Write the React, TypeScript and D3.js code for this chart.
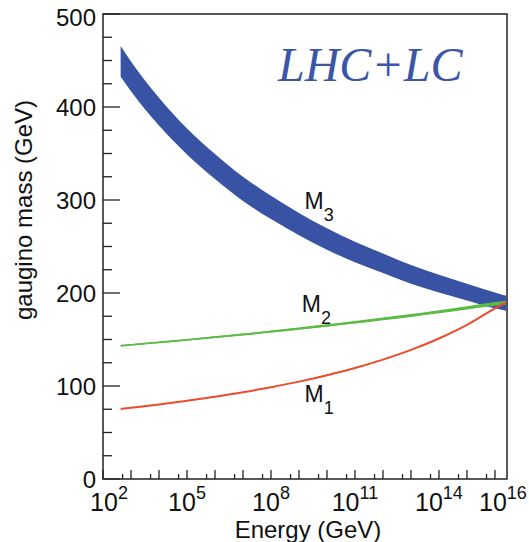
import React from "react";
import * as d3 from "d3";

// log10(Energy / GeV)
const logE = [2.63, 3, 4, 5, 6, 7, 8, 9, 10, 11, 12, 13, 14, 15, 16, 16.4];
// M3 band (GeV)
const m3Upper = [465.5, 449, 410, 377, 349.5, 325, 304.5, 286, 269.5, 255, 242.5, 230, 219.5, 210, 200.5, 197];
const m3Lower = [432.5, 417, 380, 349, 322.5, 299, 279.5, 262, 246.5, 233, 221.5, 210, 200.5, 192, 183.5, 181];
// M2 band (GeV)
const m2Upper = [143.9, 144.9, 147.6, 150.4, 153.4, 156.4, 159.6, 162.9, 166.3, 169.9, 173.6, 177.5, 181.5, 185.8, 190.2, 191.6];
const m2Lower = [142.7, 143.7, 146.2, 148.8, 151.6, 154.4, 157.4, 160.5, 163.7, 167.1, 170.6, 174.3, 178.1, 182.2, 186.4, 187.6];
// M1 line (GeV)
const m1 = [75.3, 76.6, 80.2, 84.1, 88.5, 93.3, 98.7, 104.7, 111.6, 119.4, 128.4, 138.8, 151.1, 165.7, 183.5, 190];

const yMajorTicks = [0, 100, 200, 300, 400, 500];
const yMinorTicks = [25, 50, 75, 125, 150, 175, 225, 250, 275, 325, 350, 375, 425, 450, 475];
const xDecades = [2, 3, 4, 5, 6, 7, 8, 9, 10, 11, 12, 13, 14, 15, 16];
const xLabelExps = [2, 5, 8, 11, 14, 16];

const curveLabels = [
  { name: "M", sub: "3", e: 9.2, v: 290 },
  { name: "M", sub: "2", e: 9.1, v: 180 },
  { name: "M", sub: "1", e: 9.2, v: 83 },
];

export default function App() {
  const W = 529, H = 542;
  const left = 103, right = 507, top = 14, bottom = 479;
  const x = d3.scaleLog().domain([1e2, Math.pow(10, 16.43)]).range([left, right]);
  const y = d3.scaleLinear().domain([0, 500]).range([bottom, top]);

  const pts = logE.map((l, i) => ({ E: Math.pow(10, l), i }));
  const band = (up: number[], lo: number[]) =>
    d3.area<{ E: number; i: number }>()
      .x((d) => x(d.E))
      .y0((d) => y(lo[d.i]))
      .y1((d) => y(up[d.i]))
      .curve(d3.curveMonotoneX)(pts) as string;
  const line = (vals: number[]) =>
    d3.line<{ E: number; i: number }>()
      .x((d) => x(d.E))
      .y((d) => y(vals[d.i]))
      .curve(d3.curveMonotoneX)(pts) as string;
  const m2Mid = m2Upper.map((u, i) => (u + m2Lower[i]) / 2);

  const font = "'Liberation Sans', Arial, Helvetica, sans-serif";

  return (
    <svg width={W} height={H} style={{ position: "absolute", left: 0, top: 0 }}>
      <rect width={W} height={H} fill="#fff" />
      <defs>
        <clipPath id="plotclip">
          <rect x={left} y={top} width={right - left} height={bottom - top} />
        </clipPath>
      </defs>
      <g clipPath="url(#plotclip)">
        <path d={band(m3Upper, m3Lower)} fill="#3953a4" />
        <path d={band(m2Upper, m2Lower)} fill="#5cbb45" />
        <path d={line(m2Mid)} fill="none" stroke="#5cbb45" strokeWidth={1.8} />
        <path d={line(m1)} fill="none" stroke="#ee4a2b" strokeWidth={2} />
      </g>

      {/* frame */}
      <rect x={left} y={top} width={right - left} height={bottom - top} fill="none" stroke="#222" strokeWidth={1.5} />

      {/* y ticks */}
      {yMajorTicks.map((t) => (
        <g key={"ym" + t}>
          <line x1={left} x2={left + 17} y1={y(t)} y2={y(t)} stroke="#222" strokeWidth={1.3} />
          <text x={96} y={y(t) + (t === 500 ? 3 : 0)} dy="0.36em" textAnchor="end" fontFamily={font} fontSize={24} fill="#111">
            {t}
          </text>
        </g>
      ))}
      {yMinorTicks.map((t) => (
        <line key={"yn" + t} x1={left} x2={left + 9} y1={y(t)} y2={y(t)} stroke="#222" strokeWidth={1.3} />
      ))}

      {/* x ticks */}
      {xDecades.map((n) => (
        <line key={"xd" + n} x1={x(Math.pow(10, n))} x2={x(Math.pow(10, n))} y1={bottom} y2={bottom - 9} stroke="#222" strokeWidth={1.3} />
      ))}
      {xDecades.slice(0, -1).map((n) => (
        <line key={"xh" + n} x1={x(5 * Math.pow(10, n))} x2={x(5 * Math.pow(10, n))} y1={bottom} y2={bottom - 5} stroke="#222" strokeWidth={1.3} />
      ))}
      {xLabelExps.map((n, i) => {
        const shift = i === 0 ? 6 : i === xLabelExps.length - 1 ? 8 : 0;
        return (
          <text key={"xl" + n} x={x(Math.pow(10, n)) + shift} y={511} textAnchor="middle" fontFamily={font} fontSize={25} fill="#111">
            10
            <tspan fontSize={18} dy={-12}>{n}</tspan>
          </text>
        );
      })}

      {/* axis titles */}
      <text x={(left + right) / 2 + 3} y={538} textAnchor="middle" fontFamily={font} fontSize={24} fill="#111">
        Energy (GeV)
      </text>
      <text transform={`translate(32,${210}) rotate(-90)`} textAnchor="middle" fontFamily={font} fontSize={24} fill="#111">
        gaugino mass (GeV)
      </text>

      {/* curve labels */}
      {curveLabels.map((c) => (
        <text key={c.sub} x={x(Math.pow(10, c.e))} y={y(c.v)} fontFamily={font} fontSize={23} fill="#111">
          {c.name}
          <tspan fontSize={18} dy={12}>{c.sub}</tspan>
        </text>
      ))}

      {/* title */}
      <text x={278} y={81} fontFamily="'Liberation Serif', 'Times New Roman', serif" fontStyle="italic" fontSize={48} fill="#3b56a8">
        LHC+LC
      </text>
    </svg>
  );
}
